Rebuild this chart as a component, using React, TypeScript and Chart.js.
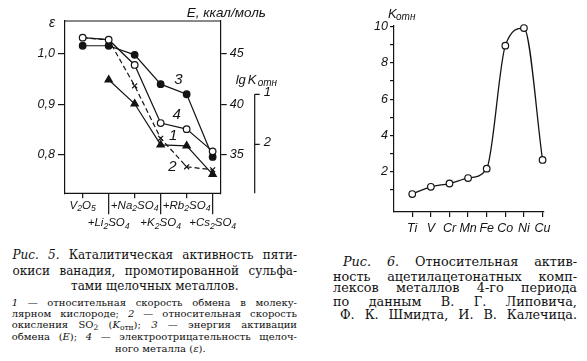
import React, { useEffect, useRef } from 'react';
import { Chart, registerables } from 'chart.js';

Chart.register(...registerables);

// ---------------- Fig. 5 data ----------------
const saltLabels = ['V2O5', '+Li2SO4', '+Na2SO4', '+K2SO4', '+Rb2SO4', '+Cs2SO4'];
const epsTicks = [0.8, 0.9, 1.0];
const energyTicks = [35, 40, 45];
const lgTicks = [1, 2];
// curve 1: relative exchange rate in molecular oxygen (lg scale)
const exchangeRate1: (number | null)[] = [null, 0.71, 1.19, 2.01, 2.03, 2.6];
// curve 2: relative SO2 oxidation rate, lg K_отн
const oxidationRate2 = [-0.13, -0.09, 0.83, 1.88, 2.45, 2.51];
// curve 3: activation energy of exchange E, kcal/mol
const activationEnergy3 = [45.8, 45.8, 44.9, 42.0, 41.0, 34.8];
// curve 4: electronegativity of the alkali metal
const electronegativity4 = [1.032, 1.028, 0.978, 0.863, 0.851, 0.807];
const curveNames = ['1', '2', '3', '4'];

// ---------------- Fig. 6 data ----------------
const metals = ['Ti', 'V', 'Cr', 'Mn', 'Fe', 'Co', 'Ni', 'Cu'];
const kRelative = [0.77, 1.17, 1.35, 1.65, 2.17, 8.95, 9.92, 2.65];
const kTicks = [1, 2, 3, 4, 5, 6, 7, 8, 9, 10];

// ---------------- captions ----------------
const fig5Caption = [
  '*Рис.* *5.* Каталитическая активность пяти-',
  'окиси ванадия, промотированной сульфа-',
  'тами щелочных металлов.',
];
const fig5Legend = [
  '*1* — относительная скорость обмена в молеку-',
  'лярном кислороде; *2* — относительная скорость',
  'окисления SO_{2} (*K*_{отн}); *3* — энергия активации',
  'обмена (*E*); *4* — электроотрицательность щелоч-',
  'ного металла (*ε*).',
];
const fig6Caption = [
  '*Рис.* *6.* Относительная актив-',
  'ность ацетилацетонатных комп-',
  'лексов металлов 4-го периода',
  'по данным В. Г. Липовича,',
  'Ф. К. Шмидта, И. В. Калечица.',
];

const INK = '#141414';
const SANS = '"Liberation Sans", Arial, sans-serif';
const SERIF = '"DejaVu Serif", "Liberation Serif", serif';

function chemParts(label: string) {
  const parts: { t: string; sub: boolean }[] = [];
  for (const ch of label) {
    const sub = /[0-9]/.test(ch) && parts.length > 0;
    const last = parts[parts.length - 1];
    if (last && last.sub === sub) last.t += ch;
    else parts.push({ t: ch, sub });
  }
  return parts;
}

function drawRich(ctx: any, parts: { t: string; sub: boolean }[], x: number, y: number, size: number, align: string) {
  const font = (s: number) => `italic ${s}px ${SANS}`;
  const subSize = size * 0.75;
  let w = 0;
  for (const p of parts) {
    ctx.font = font(p.sub ? subSize : size);
    w += ctx.measureText(p.t).width;
  }
  let cx = align === 'center' ? x - w / 2 : x;
  ctx.textBaseline = 'middle';
  ctx.textAlign = 'left';
  for (const p of parts) {
    ctx.font = font(p.sub ? subSize : size);
    ctx.fillText(p.t, cx, p.sub ? y + size * 0.3 : y);
    cx += ctx.measureText(p.t).width;
  }
}

const tickFont = { family: SANS, size: 12.5, style: 'italic' as const };

const fig5Decor = {
  id: 'fig5Decor',
  afterDraw(chart: any) {
    const { ctx, chartArea: a, scales } = chart;
    const xs = scales.x;
    const lg = scales.yLg;
    const eps = scales.yEps;
    const en = scales.yE;
    ctx.save();
    ctx.strokeStyle = INK;
    ctx.fillStyle = INK;
    ctx.lineWidth = 1.2;
    ctx.beginPath();
    ctx.moveTo(a.left, a.top);
    ctx.lineTo(a.right, a.top);
    ctx.moveTo(a.left, a.bottom);
    ctx.lineTo(a.right, a.bottom);
    ctx.stroke();

    saltLabels.forEach((lab, i) => {
      const px = xs.getPixelForValue(i);
      const second = i % 2 === 1;
      ctx.beginPath();
      ctx.moveTo(px, a.bottom);
      ctx.lineTo(px, a.bottom + (second ? 21 : 5));
      ctx.stroke();
      drawRich(ctx, chemParts(lab), px, a.bottom + (second ? 29.5 : 12), 11.5, 'center');
    });

    // axis titles
    ctx.textBaseline = 'middle';
    ctx.textAlign = 'left';
    ctx.font = `italic 14px ${SANS}`;
    ctx.fillText('ε', a.left - 16, a.top + 2);
    ctx.font = `italic 13.5px ${SANS}`;
    ctx.fillText('E, ккал/моль', a.right - 34, a.top - 8);

    // separate lg K axis
    const ax = a.right + 34;
    const yTop = lg.getPixelForValue(lgTicks[0]);
    ctx.beginPath();
    ctx.moveTo(ax, yTop);
    ctx.lineTo(ax, a.bottom);
    lgTicks.forEach((v) => {
      const py = lg.getPixelForValue(v);
      ctx.moveTo(ax, py);
      ctx.lineTo(ax + 5, py);
    });
    ctx.stroke();
    ctx.font = `italic 13px ${SANS}`;
    lgTicks.forEach((v) => {
      ctx.fillText(String(v), ax + 9, lg.getPixelForValue(v) - 2);
    });
    ctx.font = `italic 13px ${SANS}`;
    ctx.fillText('lg', ax - 19, yTop - 14);
    ctx.fillText('K', ax - 7, yTop - 14);
    ctx.font = `italic 10px ${SANS}`;
    ctx.fillText('отн', ax + 3, yTop - 11);

    // curve numbers
    ctx.font = `italic 15px ${SANS}`;
    ctx.textAlign = 'center';
    ctx.fillText(curveNames[0], xs.getPixelForValue(3.48), lg.getPixelForValue(1.83));
    ctx.fillText(curveNames[1], xs.getPixelForValue(3.45), lg.getPixelForValue(2.45));
    ctx.fillText(curveNames[2], xs.getPixelForValue(3.68), en.getPixelForValue(42.4));
    ctx.fillText(curveNames[3], xs.getPixelForValue(3.62), eps.getPixelForValue(0.879));
    ctx.restore();
  },
};

const fig6Decor = {
  id: 'fig6Decor',
  afterDraw(chart: any) {
    const { ctx, chartArea: a } = chart;
    ctx.save();
    ctx.fillStyle = INK;
    ctx.textBaseline = 'middle';
    ctx.textAlign = 'left';
    ctx.font = `italic 13px ${SANS}`;
    ctx.fillText('K', a.left - 6, a.top - 11);
    ctx.font = `italic 10px ${SANS}`;
    ctx.fillText('отн', a.left + 2, a.top - 8.5);
    ctx.restore();
  },
};

function Fig5() {
  const ref = useRef<HTMLCanvasElement>(null);
  useEffect(() => {
    const line = { borderColor: INK, borderWidth: 1.2, pointBorderColor: INK, pointBorderWidth: 1.2, tension: 0, clip: false };
    const chart = new Chart(ref.current as HTMLCanvasElement, {
      type: 'line',
      data: {
        datasets: [
          {
            ...line,
            label: curveNames[3],
            data: electronegativity4.map((v, i) => ({ x: i, y: v })),
            yAxisID: 'yEps',
            pointStyle: 'circle',
            pointRadius: 3.3,
            pointBackgroundColor: '#fff',
          },
          {
            ...line,
            label: curveNames[2],
            data: activationEnergy3.map((v, i) => ({ x: i, y: v })),
            yAxisID: 'yE',
            pointStyle: 'circle',
            pointRadius: 3.3,
            pointBackgroundColor: INK,
          },
          {
            ...line,
            label: curveNames[0],
            data: exchangeRate1.map((v, i) => ({ x: i, y: v })),
            yAxisID: 'yLg',
            pointStyle: 'triangle',
            pointRadius: 4.2,
            pointBackgroundColor: INK,
          },
          {
            ...line,
            label: curveNames[1],
            data: oxidationRate2.map((v, i) => ({ x: i, y: v })),
            yAxisID: 'yLg',
            pointStyle: 'crossRot',
            pointRadius: 3.5,
            borderDash: [5, 3],
          },
        ],
      } as any,
      options: {
        animation: false,
        responsive: false,
        events: [],
        layout: { padding: { top: 21, bottom: 46.7, left: 0, right: 0 } },
        plugins: { legend: { display: false }, tooltip: { enabled: false } },
        scales: {
          x: { type: 'linear', display: false, min: -0.68, max: 5.31 },
          yEps: {
            type: 'linear',
            position: 'left',
            min: 0.724,
            max: 1.065,
            afterBuildTicks: (s: any) => { s.ticks = epsTicks.map((v) => ({ value: v })); },
            afterFit: (s: any) => { s.width = 65; },
            ticks: { callback: (v: any) => Number(v).toFixed(1).replace('.', ','), font: tickFont, color: INK, padding: 3 },
            grid: { drawOnChartArea: false, tickLength: 7, color: INK, lineWidth: 1.2 },
            border: { color: INK, width: 1.2 },
          },
          yE: {
            type: 'linear',
            position: 'right',
            min: 31.2,
            max: 48.25,
            afterBuildTicks: (s: any) => { s.ticks = energyTicks.map((v) => ({ value: v })); },
            afterFit: (s: any) => { s.width = 69.3; },
            ticks: { callback: (v: any) => String(v), font: tickFont, color: INK, padding: 3 },
            grid: { drawOnChartArea: false, tickLength: 6, color: INK, lineWidth: 1.2 },
            border: { color: INK, width: 1.2 },
          },
          yLg: { type: 'linear', display: false, reverse: true, min: -0.466, max: 2.98 },
        },
      } as any,
      plugins: [fig5Decor],
    });
    return () => chart.destroy();
  }, []);
  return <canvas ref={ref} width={290} height={240} style={{ position: 'absolute', left: 0, top: 0, width: 290, height: 240 }} />;
}

function Fig6() {
  const ref = useRef<HTMLCanvasElement>(null);
  useEffect(() => {
    const chart = new Chart(ref.current as HTMLCanvasElement, {
      type: 'line',
      data: {
        datasets: [
          {
            label: 'K',
            data: kRelative.map((v, i) => ({ x: i, y: v })),
            borderColor: INK,
            borderWidth: 1.3,
            cubicInterpolationMode: 'monotone',
            clip: false,
            pointStyle: 'circle',
            pointRadius: 3.3,
            pointBackgroundColor: '#fff',
            pointBorderColor: INK,
            pointBorderWidth: 1.2,
          },
        ],
      } as any,
      options: {
        animation: false,
        responsive: false,
        events: [],
        layout: { padding: { top: 25.5, right: 43.7, left: 0, bottom: 0 } },
        plugins: { legend: { display: false }, tooltip: { enabled: false } },
        scales: {
          x: {
            type: 'linear',
            min: -0.98,
            max: 7.04,
            afterBuildTicks: (s: any) => { s.ticks = metals.map((_, i) => ({ value: i })); },
            afterFit: (s: any) => { s.height = 28; },
            ticks: {
              callback: (v: any) => metals[Math.round(Number(v))],
              font: tickFont,
              color: INK,
              padding: 4,
              autoSkip: false,
              maxRotation: 0,
              minRotation: 0,
            },
            grid: { drawOnChartArea: false, tickLength: 5, color: INK, lineWidth: 1.2 },
            border: { color: INK, width: 1.2 },
          },
          y: {
            type: 'linear',
            min: -0.22,
            max: 10.06,
            afterBuildTicks: (s: any) => { s.ticks = kTicks.map((v) => ({ value: v })); },
            afterFit: (s: any) => { s.width = 104; },
            ticks: {
              callback: (v: any) => (Number(v) % 2 === 0 ? String(v) : ''),
              font: tickFont,
              color: INK,
              padding: 2,
            },
            grid: { drawOnChartArea: false, tickLength: 4, color: INK, lineWidth: 1.2 },
            border: { color: INK, width: 1.2 },
          },
        },
      } as any,
      plugins: [fig6Decor],
    });
    return () => chart.destroy();
  }, []);
  return <canvas ref={ref} width={297} height={240} style={{ position: 'absolute', left: 290, top: 0, width: 297, height: 240 }} />;
}

function renderWord(word: string, key: number) {
  const pieces = word.split(/(\*[^*]+\*|_\{[^}]+\})/).filter((p) => p.length > 0);
  return (
    <span key={key} style={{ whiteSpace: 'nowrap' }}>
      {pieces.map((p, j) => {
        if (p.startsWith('*')) return <i key={j}>{p.slice(1, -1)}</i>;
        if (p.startsWith('_{')) return <sub key={j} style={{ fontSize: '0.75em', verticalAlign: '-0.25em', lineHeight: 0 }}>{p.slice(2, -1)}</sub>;
        return <span key={j}>{p}</span>;
      })}
    </span>
  );
}

type LineBox = { left: number; right: number; cy: number; size: number; mode: 'justify' | 'center' };

function CaptionLine({ text, box }: { text: string; box: LineBox }) {
  const words = text.split(' ');
  const lh = Math.round(box.size * 1.25);
  const base: any = {
    position: 'absolute',
    left: box.left,
    width: box.right - box.left,
    top: box.cy - lh / 2,
    height: lh,
    lineHeight: lh + 'px',
    fontFamily: SERIF,
    fontSize: box.size,
    color: '#111',
    whiteSpace: 'nowrap',
  };
  if (box.mode === 'center') {
    return <div style={{ ...base, textAlign: 'center' }}>{words.map((w, i) => <React.Fragment key={i}>{i > 0 ? ' ' : ''}{renderWord(w, i)}</React.Fragment>)}</div>;
  }
  return (
    <div style={{ ...base, display: 'flex', justifyContent: 'space-between' }}>
      {words.map((w, i) => renderWord(w, i))}
    </div>
  );
}

const fig5CaptionBoxes: LineBox[] = [
  { left: 12.5, right: 297, cy: 255, size: 12, mode: 'justify' },
  { left: 12.5, right: 297, cy: 271.5, size: 12, mode: 'justify' },
  { left: 12.5, right: 297, cy: 286.5, size: 12, mode: 'center' },
];
const fig5LegendBoxes: LineBox[] = [
  { left: 11.7, right: 297, cy: 302, size: 10, mode: 'justify' },
  { left: 11.7, right: 297, cy: 313, size: 10, mode: 'justify' },
  { left: 11.7, right: 297, cy: 324.5, size: 10, mode: 'justify' },
  { left: 11.7, right: 297, cy: 336.5, size: 10, mode: 'justify' },
  { left: 11.7, right: 309, cy: 348, size: 10, mode: 'center' },
];
const fig6CaptionBoxes: LineBox[] = [
  { left: 343, right: 577, cy: 261.7, size: 12.8, mode: 'justify' },
  { left: 333, right: 577, cy: 276.7, size: 12.8, mode: 'justify' },
  { left: 333, right: 577, cy: 288.3, size: 12.8, mode: 'justify' },
  { left: 333, right: 577, cy: 301.7, size: 12.8, mode: 'justify' },
  { left: 340, right: 577, cy: 315, size: 12.8, mode: 'justify' },
];

export default function App() {
  return (
    <div style={{ position: 'absolute', left: 0, top: 0, width: 587, height: 361, background: '#fff', overflow: 'hidden' }}>
      <Fig5 />
      <Fig6 />
      {fig5Caption.map((t, i) => <CaptionLine key={'a' + i} text={t} box={fig5CaptionBoxes[i]} />)}
      {fig5Legend.map((t, i) => <CaptionLine key={'b' + i} text={t} box={fig5LegendBoxes[i]} />)}
      {fig6Caption.map((t, i) => <CaptionLine key={'c' + i} text={t} box={fig6CaptionBoxes[i]} />)}
    </div>
  );
}
